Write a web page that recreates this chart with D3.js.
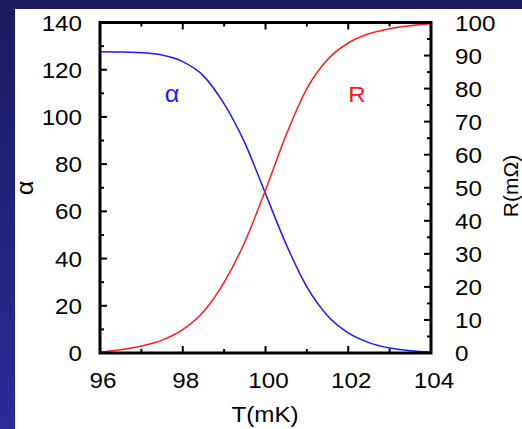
<!DOCTYPE html>
<html>
<head>
<meta charset="utf-8">
<script src="https://cdn.jsdelivr.net/npm/d3@7"></script>
<style>
  html, body { margin: 0; padding: 0; }
  svg { display: block; }
  text { font-family: "Liberation Sans", Arial, sans-serif; fill: #000; }
</style>
</head>
<body>
<svg id="chart" width="522" height="429"></svg>
<script>
// temperature samples (mK)
const temps = [96, 96.5, 97, 97.5, 98, 98.5, 99, 99.5, 100, 100.5, 101, 101.5, 102, 102.5, 103, 103.5, 104];
// alpha, left axis
const alphaValues = [127.6, 127.5, 127.2, 126.2, 123.4, 117.4, 105.5, 89, 67.5, 46, 28, 15.8, 8.5, 4.4, 2.1, 1.0, 0.4];
// resistance in mOhm, right axis
const rValues = [0.3, 1.0, 2.1, 3.9, 7.1, 12.5, 21.4, 33.6, 49.3, 66, 80, 88.8, 93.8, 96.6, 98.1, 99, 99.6];

const xTicks = [96, 98, 100, 102, 104];
const alphaTicks = [0, 20, 40, 60, 80, 100, 120, 140];
const rTicks = [0, 10, 20, 30, 40, 50, 60, 70, 80, 90, 100];

const svg = d3.select('#chart');

// background: navy gradient with a white sheet
const defs = svg.append('defs');
const grad = defs.append('linearGradient')
  .attr('id', 'bg').attr('x1', 0).attr('y1', 0).attr('x2', 0).attr('y2', 1);
grad.append('stop').attr('offset', '0%').attr('stop-color', '#1b1b60');
grad.append('stop').attr('offset', '100%').attr('stop-color', '#2b2a99');
svg.append('rect').attr('width', 522).attr('height', 429).attr('fill', 'url(#bg)');
svg.append('rect').attr('x', 15).attr('y', 9).attr('width', 507).attr('height', 420).attr('fill', '#fff');

const plot = { left: 100, right: 431, top: 22.5, bottom: 353 };

const x = d3.scaleLinear().domain([96, 104]).range([plot.left, plot.right]);
const yA = d3.scaleLinear().domain([0, 140]).range([plot.bottom, plot.top]);
const yR = d3.scaleLinear().domain([0, 100]).range([plot.bottom, plot.top]);

const g = svg.append('g');

// curves
const alphaLine = d3.line()
  .x((d, i) => x(temps[i]))
  .y(d => yA(d))
  .curve(d3.curveMonotoneX);
const rLine = d3.line()
  .x((d, i) => x(temps[i]))
  .y(d => yR(d))
  .curve(d3.curveMonotoneX);

g.append('path').datum(alphaValues)
  .attr('d', alphaLine).attr('fill', 'none').attr('stroke', '#1a1aff').attr('stroke-width', 1.5);
g.append('path').datum(rValues)
  .attr('d', rLine).attr('fill', 'none').attr('stroke', '#ff1a1a').attr('stroke-width', 1.5);

// ticks: major + minor, drawn inward on all four sides
function ticksOn(scale, values, len, side) {
  values.forEach(v => {
    const p = scale(v);
    let l;
    if (side === 'bottom') l = [p, plot.bottom, p, plot.bottom - len];
    else if (side === 'top') l = [p, plot.top, p, plot.top + len];
    else if (side === 'left') l = [plot.left, p, plot.left + len, p];
    else l = [plot.right, p, plot.right - len, p];
    g.append('line')
      .attr('x1', l[0]).attr('y1', l[1]).attr('x2', l[2]).attr('y2', l[3])
      .attr('stroke', '#000').attr('stroke-width', 2);
  });
}
const xMinor = d3.range(97, 104, 2);
const aMinor = d3.range(10, 140, 20);
const rMinor = d3.range(5, 100, 10);
ticksOn(x, xTicks, 7, 'bottom');
ticksOn(x, xMinor, 4, 'bottom');
ticksOn(x, xTicks, 7, 'top');
ticksOn(x, xMinor, 4, 'top');
ticksOn(yA, alphaTicks, 7, 'left');
ticksOn(yA, aMinor, 4, 'left');
ticksOn(yR, rTicks, 7, 'right');
ticksOn(yR, rMinor, 4, 'right');

// frame
g.append('rect')
  .attr('x', plot.left).attr('y', plot.top)
  .attr('width', plot.right - plot.left).attr('height', plot.bottom - plot.top)
  .attr('fill', 'none').attr('stroke', '#000').attr('stroke-width', 3);

// tick labels (source image is slightly stretched horizontally)
const stretch = 1.1;
function label(txt, px, py, anchor, size, color) {
  return svg.append('text')
    .attr('transform', `translate(${px},${py}) scale(${stretch},1)`)
    .attr('text-anchor', anchor)
    .attr('font-size', size)
    .style('fill', color || '#000')
    .text(txt);
}
alphaTicks.forEach(v => label(v, 82, yA(v) + 8, 'end', 22));
rTicks.forEach(v => label(v, 455, yR(v) + 8, 'start', 22));
xTicks.forEach(v => label(v, x(v) + 3, 388, 'middle', 22));

// axis titles
label('T(mK)', 265, 422, 'middle', 22);
svg.append('text')
  .attr('transform', 'translate(33,188) rotate(-90) scale(1.1,1)')
  .attr('text-anchor', 'middle').attr('font-size', 23)
  .text('α');
svg.append('text')
  .attr('transform', 'translate(518,186) rotate(-90)')
  .attr('text-anchor', 'middle').attr('font-size', 21)
  .text('R(mΩ)');

// curve labels
label('α', 172, 102, 'middle', 23, '#1a1aff');
label('R', 357, 102, 'middle', 22, '#ff1a1a');
</script>
</body>
</html>
